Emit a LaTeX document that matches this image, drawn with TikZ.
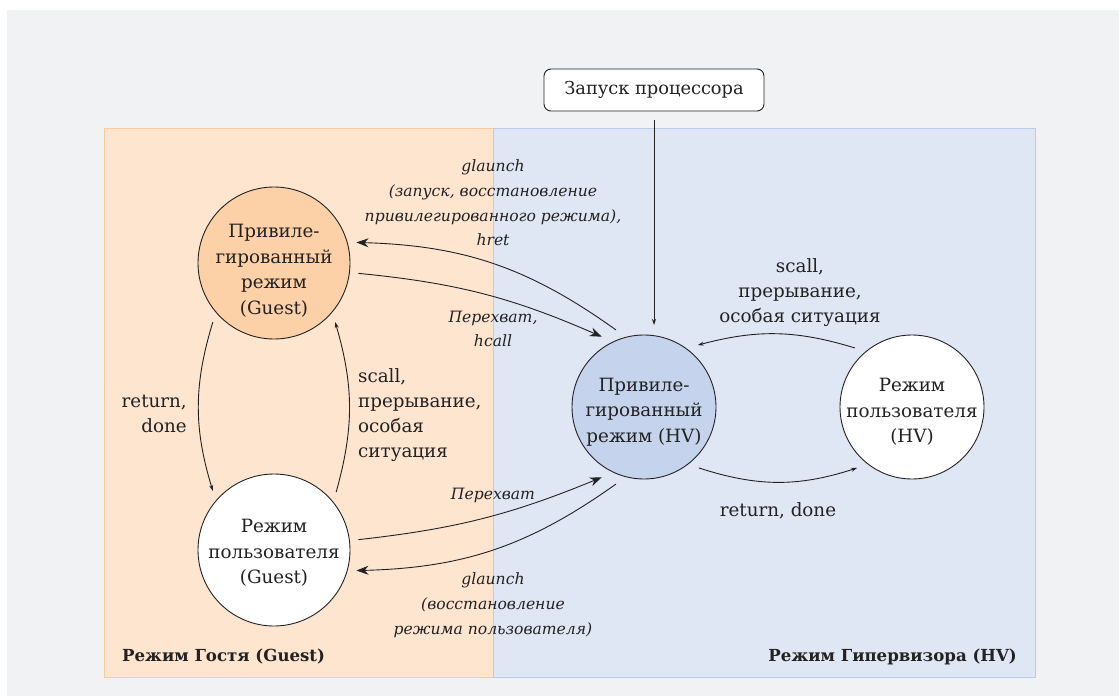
\documentclass[tikz,border=0pt]{standalone}
\usepackage{fontspec}
\setmainfont{DejaVu Serif}
\usetikzlibrary{arrows.meta}
\definecolor{bggray}{HTML}{F1F2F4}
\definecolor{orfill}{HTML}{FEE5D0}
\definecolor{ordraw}{HTML}{F8CBA2}
\definecolor{blfill}{HTML}{DFE6F4}
\definecolor{bldraw}{HTML}{B9CCEA}
\definecolor{gpfill}{HTML}{FCD1A8}
\definecolor{hvfill}{HTML}{C5D4EC}
\definecolor{ink}{HTML}{222222}
\tikzset{
  stateg/.style={circle, draw=ink, line width=0.9pt, minimum size=152pt, inner sep=0pt, outer sep=9pt},
  stateh/.style={circle, draw=ink, line width=0.9pt, minimum size=144pt, inner sep=0pt, outer sep=10pt},
  sttxt/.style={inner sep=0pt, align=center, text=ink, font=\fontsize{18.3}{25.5}\selectfont},
  txt/.style={inner sep=0pt, align=center, text=ink, font=\fontsize{18.3}{25}\selectfont},
  itl/.style={inner sep=0pt, align=center, text=ink, font=\fontsize{15.6}{24.7}\selectfont\itshape},
  bld/.style={inner sep=0pt, text=ink, font=\fontsize{16.6}{18}\selectfont\bfseries},
  startbox/.style={draw=ink, fill=white, line width=0.9pt, rounded corners=7pt, minimum width=220pt, minimum height=42pt, inner sep=0pt, outer sep=9pt, text=ink, font=\fontsize{17.8}{20}\selectfont},
  big/.style={draw=ink, line width=0.9pt, -{Stealth[length=12pt,width=9pt]}},
  small/.style={draw=ink, line width=0.9pt, -{Stealth[length=6pt,width=4pt]}}
}
\begin{document}
\begin{tikzpicture}[x=1pt,y=-1pt]
\useasboundingbox (0,0) rectangle (1119,696);
\fill[white] (0,0) rectangle (1119,696);
\fill[bggray] (7,10) rectangle (1119,696);
\draw[fill=orfill, draw=ordraw, line width=1pt] (104,128) rectangle (493,677);
\draw[fill=blfill, draw=bldraw, line width=1pt] (493,128) rectangle (1035,677);

\node[stateg, fill=gpfill] (gp) at (274,263) {};
\node[stateg, fill=white] (gu) at (274,550) {};
\node[stateh, fill=hvfill] (hvp) at (644,407) {};
\node[stateh, fill=white] (hvu) at (912,407) {};

\node[sttxt] (gpt) at (274,271) {Привиле-\\гированный\\режим\\(Guest)};
\node[sttxt] (gut) at (274,553) {Режим\\пользователя\\(Guest)};
\node[sttxt] (hvpt) at (644,412) {Привиле-\\гированный\\режим (HV)};
\node[sttxt] (hvut) at (912,412) {Режим\\пользователя\\(HV)};

\node[startbox] (start) at (654,90) {Запуск процессора};

\draw[big] (hvp.110) to[bend right=17] (gp.14);
\draw[big] (gp.-7) to[bend left=9] (hvp.121);
\draw[big] (gu.7) to[bend right=8] (hvp.-121);
\draw[big] (hvp.-110) to[bend left=17] (gu.-14);
\draw[small] (gp.224) to[bend right=17] (gu.136);
\draw[small] (gu.43) to[bend right=16] (gp.-44);
\draw[small] (hvu.134) to[bend right=16] (hvp.49);
\draw[small] (hvp.-48) to[bend right=18] (hvu.-132);
\draw[small] (start.south) -- (start.south |- hvp.north);

\node[itl] (l1) at (493,203) {glaunch\\(запуск, восстановление\\привилегированного режима),\\hret};
\node[itl] (l2) at (493,329) {Перехват,\\hcall};
\node[itl] (l3) at (493,495) {Перехват};
\node[itl] (l4) at (493,605) {glaunch\\(восстановление\\режима пользователя)};
\node[txt, align=right, anchor=east] (l5) at (187,414) {return,\\done};
\node[txt, align=left, anchor=west] (l6) at (358,415) {scall,\\прерывание,\\особая\\ситуация};
\node[txt] (l7) at (800,293) {scall,\\прерывание,\\особая ситуация};
\node[txt] (l8) at (778,511) {return, done};
\node[bld, anchor=base west] (r1) at (122,661) {Режим Гостя (Guest)};
\node[bld, anchor=base east] (r2) at (1017,661) {Режим Гипервизора (HV)};
\end{tikzpicture}
\end{document}
